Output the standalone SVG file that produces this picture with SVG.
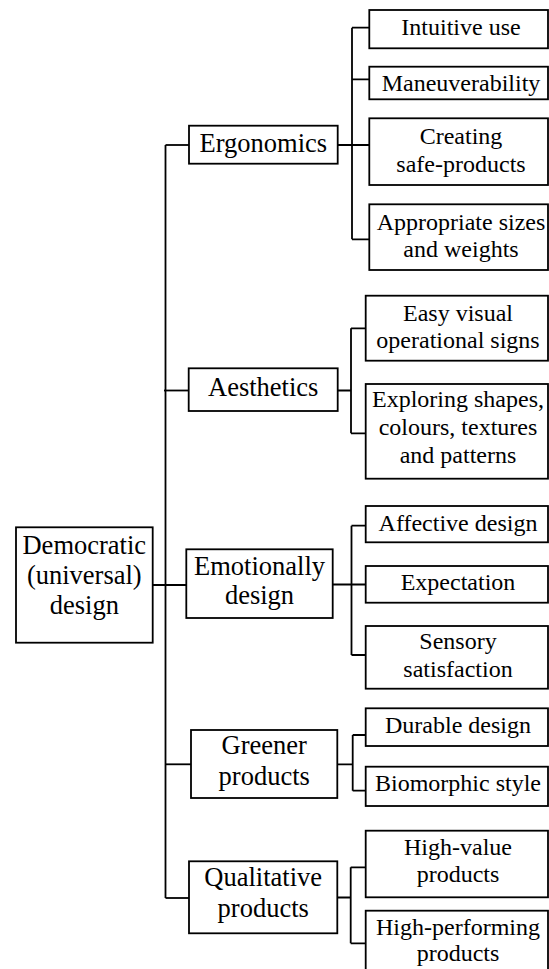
<svg xmlns="http://www.w3.org/2000/svg" width="549" height="969" viewBox="0 0 549 969">
<style>
.box{fill:#fff;stroke:#000;stroke-width:1.8}
.ln{fill:none;stroke:#000;stroke-width:1.8}
.l{font-size:26.5px}
.r{font-size:24px}
</style>
<rect width="549" height="969" fill="#fff"/>
<g id="connectors">
<path class="ln" d="M165.5,145 V898"/>
<path class="ln" d="M165.5,145 H189"/>
<path class="ln" d="M164,390.5 H188.7"/>
<path class="ln" d="M152.7,585 H186.3"/>
<path class="ln" d="M165.5,764.3 H191"/>
<path class="ln" d="M165.5,898 H189"/>
<path class="ln" d="M337.7,145 H352 M352,27.7 V239.3 M352,27.7 H369.3 M352,79.3 H369.3 M352,145 H369.3 M352,239.3 H369.3"/>
<path class="ln" d="M337.7,390.5 H351 M351,328.3 V433.3 M351,328.3 H365.7 M351,433.3 H365.7"/>
<path class="ln" d="M332.7,584.5 H365.7 M351.5,525.7 V655 M351.5,525.7 H365.7 M351.5,655 H365.7"/>
<path class="ln" d="M337.3,764.3 H352.7 M352.7,735 V790.7 M352.7,735 H365.7 M352.7,790.7 H365.7"/>
<path class="ln" d="M337.3,897.5 H350.7 M350.7,867.3 V943.3 M350.7,867.3 H365.7 M350.7,943.3 H365.7"/>
</g>
<g id="nodes" font-family="'Liberation Serif', 'Noto Serif', 'DejaVu Serif', 'Times New Roman', Times, serif" text-anchor="middle" fill="#000">
<g id="democratic">
<rect class="box" x="16" y="527.3" width="136.7" height="115.4"/>
<text class="l" x="84.3" y="554">Democratic</text>
<text class="l" x="84.3" y="584">(universal)</text>
<text class="l" x="84.3" y="614">design</text>
</g>
<g id="ergonomics">
<rect class="box" x="189" y="125.7" width="148.7" height="38"/>
<text class="l" x="263.3" y="152">Ergonomics</text>
</g>
<g id="aesthetics">
<rect class="box" x="188.7" y="368.3" width="149" height="42.7"/>
<text class="l" x="263.2" y="395.5">Aesthetics</text>
</g>
<g id="emotionally">
<rect class="box" x="186.3" y="549.3" width="146.4" height="68.7"/>
<text class="l" x="259.5" y="575">Emotionally</text>
<text class="l" x="259.5" y="604">design</text>
</g>
<g id="greener">
<rect class="box" x="191" y="730" width="146.3" height="68"/>
<text class="l" x="264.2" y="754">Greener</text>
<text class="l" x="264.2" y="784.5">products</text>
</g>
<g id="qualitative">
<rect class="box" x="189" y="861.3" width="148.3" height="72"/>
<text class="l" x="263.2" y="886">Qualitative</text>
<text class="l" x="263.2" y="916.5">products</text>
</g>
<g id="intuitive">
<rect class="box" x="369.3" y="10" width="178.7" height="38.3"/>
<text class="r" x="461" y="35">Intuitive use</text>
</g>
<g id="maneuverability">
<rect class="box" x="369.3" y="66.7" width="178.7" height="32.6"/>
<text class="r" x="461" y="91">Maneuverability</text>
</g>
<g id="creating">
<rect class="box" x="369.3" y="118.3" width="178.7" height="66.7"/>
<text class="r" x="461" y="144">Creating</text>
<text class="r" x="461" y="171.5">safe-products</text>
</g>
<g id="appropriate">
<rect class="box" x="369.3" y="204.3" width="178.7" height="65.7"/>
<text class="r" x="461" y="230">Appropriate sizes</text>
<text class="r" x="461" y="257">and weights</text>
</g>
<g id="easy-visual">
<rect class="box" x="365.7" y="295.7" width="182.3" height="65"/>
<text class="r" x="458" y="321">Easy visual</text>
<text class="r" x="458" y="347.5">operational signs</text>
</g>
<g id="exploring">
<rect class="box" x="365.7" y="384" width="182.3" height="94.7"/>
<text class="r" x="458" y="407">Exploring shapes,</text>
<text class="r" x="458" y="435">colours, textures</text>
<text class="r" x="458" y="463">and patterns</text>
</g>
<g id="affective">
<rect class="box" x="365.7" y="506" width="182.3" height="36.3"/>
<text class="r" x="458" y="531">Affective design</text>
</g>
<g id="expectation">
<rect class="box" x="365.7" y="566" width="182.3" height="36.7"/>
<text class="r" x="458" y="590">Expectation</text>
</g>
<g id="sensory">
<rect class="box" x="365.7" y="626" width="182.3" height="62.7"/>
<text class="r" x="458" y="649">Sensory</text>
<text class="r" x="458" y="677">satisfaction</text>
</g>
<g id="durable">
<rect class="box" x="365.7" y="708.3" width="182.3" height="37.7"/>
<text class="r" x="458" y="733">Durable design</text>
</g>
<g id="biomorphic">
<rect class="box" x="365.7" y="766.7" width="182.3" height="39.3"/>
<text class="r" x="458" y="791">Biomorphic style</text>
</g>
<g id="high-value">
<rect class="box" x="365.7" y="830.7" width="182.3" height="66.6"/>
<text class="r" x="458" y="854.5">High-value</text>
<text class="r" x="458" y="882">products</text>
</g>
<g id="high-performing">
<rect class="box" x="365.7" y="910.7" width="182.3" height="70"/>
<text class="r" x="458" y="935">High-performing</text>
<text class="r" x="458" y="961">products</text>
</g>
</g>
</svg>
